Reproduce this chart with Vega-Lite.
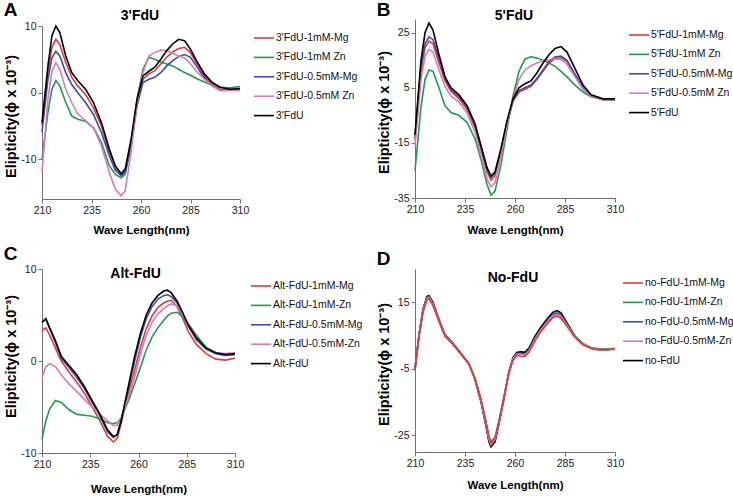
{
  "$schema": "https://vega.github.io/schema/vega-lite/v6.json",
  "padding": {"left": 3, "top": 0, "right": 0, "bottom": 0},
  "config": {
    "view": {"stroke": null},
    "font": "Liberation Sans",
    "axis": {"grid": false, "domainColor": "#707070", "tickColor": "#707070", "labelColor": "#222", "labelFont": "Liberation Sans", "labelFontSize": 10.5, "tickSize": 4, "labelPadding": 2, "titleColor": "#000", "titleFontWeight": "bold"},
    "axisX": {"titleFont": "Liberation Sans", "titleFontSize": 11.5, "labelFlush": false},
    "axisY": {"titleFont": "Liberation Sans", "titleFontSize": 14.5, "titlePadding": 2},
    "legend": {"symbolType": "stroke", "symbolSize": 400, "symbolStrokeWidth": 2, "labelFontSize": 10.5, "labelFont": "Liberation Sans", "labelColor": "#111", "padding": 0, "rowPadding": 2.4, "labelOffset": 1, "labelLimit": 200},
    "title": {"font": "Liberation Sans", "fontSize": 19, "fontWeight": "bold", "anchor": "start", "frame": "bounds", "color": "#000"},
    "line": {"strokeWidth": 1.6}
  },
  "datasets": {
    "A": [
      {"s":"3'FdU-1mM-Mg","w":210,"v":-5},{"s":"3'FdU-1mM-Mg","w":213,"v":3},{"s":"3'FdU-1mM-Mg","w":215,"v":6.8},{"s":"3'FdU-1mM-Mg","w":217,"v":8},{"s":"3'FdU-1mM-Mg","w":219,"v":7.2},{"s":"3'FdU-1mM-Mg","w":222,"v":4.5},{"s":"3'FdU-1mM-Mg","w":225,"v":2.3},{"s":"3'FdU-1mM-Mg","w":228,"v":1},{"s":"3'FdU-1mM-Mg","w":232,"v":-0.3},{"s":"3'FdU-1mM-Mg","w":236,"v":-2.3},{"s":"3'FdU-1mM-Mg","w":240,"v":-5},{"s":"3'FdU-1mM-Mg","w":244,"v":-9},{"s":"3'FdU-1mM-Mg","w":247,"v":-11.3},{"s":"3'FdU-1mM-Mg","w":250,"v":-12.3},{"s":"3'FdU-1mM-Mg","w":252,"v":-11.8},{"s":"3'FdU-1mM-Mg","w":255,"v":-7.5},{"s":"3'FdU-1mM-Mg","w":258,"v":-1.5},{"s":"3'FdU-1mM-Mg","w":261,"v":2},{"s":"3'FdU-1mM-Mg","w":264,"v":2.8},{"s":"3'FdU-1mM-Mg","w":267,"v":3.3},{"s":"3'FdU-1mM-Mg","w":270,"v":4.3},{"s":"3'FdU-1mM-Mg","w":273,"v":5.3},{"s":"3'FdU-1mM-Mg","w":276,"v":6.1},{"s":"3'FdU-1mM-Mg","w":279,"v":6.6},{"s":"3'FdU-1mM-Mg","w":282,"v":6.8},{"s":"3'FdU-1mM-Mg","w":285,"v":6},{"s":"3'FdU-1mM-Mg","w":288,"v":4.5},{"s":"3'FdU-1mM-Mg","w":292,"v":2.5},{"s":"3'FdU-1mM-Mg","w":296,"v":1.2},{"s":"3'FdU-1mM-Mg","w":300,"v":0.5},{"s":"3'FdU-1mM-Mg","w":305,"v":0.5},{"s":"3'FdU-1mM-Mg","w":310,"v":0.5},
      {"s":"3'FdU-1mM Zn","w":210,"v":-10},{"s":"3'FdU-1mM Zn","w":213,"v":-3},{"s":"3'FdU-1mM Zn","w":215,"v":0.5},{"s":"3'FdU-1mM Zn","w":217,"v":1.8},{"s":"3'FdU-1mM Zn","w":219,"v":1},{"s":"3'FdU-1mM Zn","w":222,"v":-1.5},{"s":"3'FdU-1mM Zn","w":225,"v":-3.5},{"s":"3'FdU-1mM Zn","w":228,"v":-4},{"s":"3'FdU-1mM Zn","w":232,"v":-4.3},{"s":"3'FdU-1mM Zn","w":236,"v":-5.3},{"s":"3'FdU-1mM Zn","w":240,"v":-7.5},{"s":"3'FdU-1mM Zn","w":244,"v":-11},{"s":"3'FdU-1mM Zn","w":247,"v":-12.3},{"s":"3'FdU-1mM Zn","w":250,"v":-12.8},{"s":"3'FdU-1mM Zn","w":252,"v":-12.3},{"s":"3'FdU-1mM Zn","w":255,"v":-8},{"s":"3'FdU-1mM Zn","w":258,"v":-1},{"s":"3'FdU-1mM Zn","w":261,"v":3.5},{"s":"3'FdU-1mM Zn","w":264,"v":5.3},{"s":"3'FdU-1mM Zn","w":267,"v":5},{"s":"3'FdU-1mM Zn","w":270,"v":4.6},{"s":"3'FdU-1mM Zn","w":273,"v":4.3},{"s":"3'FdU-1mM Zn","w":276,"v":4},{"s":"3'FdU-1mM Zn","w":279,"v":3.5},{"s":"3'FdU-1mM Zn","w":282,"v":3},{"s":"3'FdU-1mM Zn","w":285,"v":2.6},{"s":"3'FdU-1mM Zn","w":288,"v":2.1},{"s":"3'FdU-1mM Zn","w":292,"v":1.6},{"s":"3'FdU-1mM Zn","w":296,"v":1.1},{"s":"3'FdU-1mM Zn","w":300,"v":0.8},{"s":"3'FdU-1mM Zn","w":305,"v":0.7},{"s":"3'FdU-1mM Zn","w":310,"v":0.9},
      {"s":"3'FdU-0.5mM-Mg","w":210,"v":-6},{"s":"3'FdU-0.5mM-Mg","w":213,"v":2},{"s":"3'FdU-0.5mM-Mg","w":215,"v":5.2},{"s":"3'FdU-0.5mM-Mg","w":217,"v":6.2},{"s":"3'FdU-0.5mM-Mg","w":219,"v":5.5},{"s":"3'FdU-0.5mM-Mg","w":222,"v":3},{"s":"3'FdU-0.5mM-Mg","w":225,"v":1.2},{"s":"3'FdU-0.5mM-Mg","w":228,"v":0},{"s":"3'FdU-0.5mM-Mg","w":232,"v":-1.5},{"s":"3'FdU-0.5mM-Mg","w":236,"v":-3.3},{"s":"3'FdU-0.5mM-Mg","w":240,"v":-6},{"s":"3'FdU-0.5mM-Mg","w":244,"v":-9.5},{"s":"3'FdU-0.5mM-Mg","w":247,"v":-11.7},{"s":"3'FdU-0.5mM-Mg","w":250,"v":-12.5},{"s":"3'FdU-0.5mM-Mg","w":252,"v":-12},{"s":"3'FdU-0.5mM-Mg","w":255,"v":-8},{"s":"3'FdU-0.5mM-Mg","w":258,"v":-2},{"s":"3'FdU-0.5mM-Mg","w":261,"v":1.5},{"s":"3'FdU-0.5mM-Mg","w":264,"v":2},{"s":"3'FdU-0.5mM-Mg","w":267,"v":2.3},{"s":"3'FdU-0.5mM-Mg","w":270,"v":3},{"s":"3'FdU-0.5mM-Mg","w":273,"v":4},{"s":"3'FdU-0.5mM-Mg","w":276,"v":4.8},{"s":"3'FdU-0.5mM-Mg","w":279,"v":5.4},{"s":"3'FdU-0.5mM-Mg","w":282,"v":5.7},{"s":"3'FdU-0.5mM-Mg","w":285,"v":5.3},{"s":"3'FdU-0.5mM-Mg","w":288,"v":4},{"s":"3'FdU-0.5mM-Mg","w":292,"v":2.2},{"s":"3'FdU-0.5mM-Mg","w":296,"v":1},{"s":"3'FdU-0.5mM-Mg","w":300,"v":0.3},{"s":"3'FdU-0.5mM-Mg","w":305,"v":0.4},{"s":"3'FdU-0.5mM-Mg","w":310,"v":0.4},
      {"s":"3'FdU-0.5mM Zn","w":210,"v":-12},{"s":"3'FdU-0.5mM Zn","w":213,"v":-1},{"s":"3'FdU-0.5mM Zn","w":215,"v":3.2},{"s":"3'FdU-0.5mM Zn","w":217,"v":4.5},{"s":"3'FdU-0.5mM Zn","w":219,"v":3.5},{"s":"3'FdU-0.5mM Zn","w":222,"v":0.5},{"s":"3'FdU-0.5mM Zn","w":225,"v":-1.5},{"s":"3'FdU-0.5mM Zn","w":228,"v":-3.2},{"s":"3'FdU-0.5mM Zn","w":232,"v":-4.2},{"s":"3'FdU-0.5mM Zn","w":236,"v":-5.3},{"s":"3'FdU-0.5mM Zn","w":240,"v":-8},{"s":"3'FdU-0.5mM Zn","w":244,"v":-12},{"s":"3'FdU-0.5mM Zn","w":247,"v":-14.5},{"s":"3'FdU-0.5mM Zn","w":250,"v":-15.5},{"s":"3'FdU-0.5mM Zn","w":252,"v":-14.8},{"s":"3'FdU-0.5mM Zn","w":255,"v":-9},{"s":"3'FdU-0.5mM Zn","w":258,"v":-1.5},{"s":"3'FdU-0.5mM Zn","w":261,"v":3},{"s":"3'FdU-0.5mM Zn","w":264,"v":5.5},{"s":"3'FdU-0.5mM Zn","w":267,"v":6},{"s":"3'FdU-0.5mM Zn","w":270,"v":6.4},{"s":"3'FdU-0.5mM Zn","w":273,"v":6.3},{"s":"3'FdU-0.5mM Zn","w":276,"v":5.9},{"s":"3'FdU-0.5mM Zn","w":279,"v":5.5},{"s":"3'FdU-0.5mM Zn","w":282,"v":5.2},{"s":"3'FdU-0.5mM Zn","w":285,"v":4.3},{"s":"3'FdU-0.5mM Zn","w":288,"v":3.2},{"s":"3'FdU-0.5mM Zn","w":292,"v":2},{"s":"3'FdU-0.5mM Zn","w":296,"v":1},{"s":"3'FdU-0.5mM Zn","w":300,"v":0.3},{"s":"3'FdU-0.5mM Zn","w":305,"v":0.3},{"s":"3'FdU-0.5mM Zn","w":310,"v":0.3},
      {"s":"3'FdU","w":210,"v":-4.5},{"s":"3'FdU","w":213,"v":4},{"s":"3'FdU","w":215,"v":8.5},{"s":"3'FdU","w":217,"v":10},{"s":"3'FdU","w":219,"v":9},{"s":"3'FdU","w":222,"v":5.5},{"s":"3'FdU","w":225,"v":3},{"s":"3'FdU","w":228,"v":1.8},{"s":"3'FdU","w":232,"v":0.5},{"s":"3'FdU","w":236,"v":-1.5},{"s":"3'FdU","w":240,"v":-4.5},{"s":"3'FdU","w":244,"v":-8.5},{"s":"3'FdU","w":247,"v":-11},{"s":"3'FdU","w":250,"v":-12.2},{"s":"3'FdU","w":252,"v":-11.5},{"s":"3'FdU","w":255,"v":-7},{"s":"3'FdU","w":258,"v":-1},{"s":"3'FdU","w":261,"v":2.5},{"s":"3'FdU","w":264,"v":3.2},{"s":"3'FdU","w":267,"v":3.8},{"s":"3'FdU","w":270,"v":5},{"s":"3'FdU","w":273,"v":6.3},{"s":"3'FdU","w":276,"v":7.3},{"s":"3'FdU","w":279,"v":8},{"s":"3'FdU","w":282,"v":7.8},{"s":"3'FdU","w":285,"v":6.5},{"s":"3'FdU","w":288,"v":4.8},{"s":"3'FdU","w":292,"v":2.8},{"s":"3'FdU","w":296,"v":1.5},{"s":"3'FdU","w":300,"v":0.8},{"s":"3'FdU","w":305,"v":0.5},{"s":"3'FdU","w":310,"v":0.6}
    ],
    "B": [
      {"s":"5'FdU-1mM-Mg","w":210,"v":-14},{"s":"5'FdU-1mM-Mg","w":213,"v":11},{"s":"5'FdU-1mM-Mg","w":215,"v":19.5},{"s":"5'FdU-1mM-Mg","w":217,"v":22},{"s":"5'FdU-1mM-Mg","w":219,"v":21},{"s":"5'FdU-1mM-Mg","w":222,"v":14},{"s":"5'FdU-1mM-Mg","w":225,"v":7.5},{"s":"5'FdU-1mM-Mg","w":228,"v":3.8},{"s":"5'FdU-1mM-Mg","w":232,"v":1},{"s":"5'FdU-1mM-Mg","w":236,"v":-2.8},{"s":"5'FdU-1mM-Mg","w":240,"v":-9.5},{"s":"5'FdU-1mM-Mg","w":243,"v":-17.5},{"s":"5'FdU-1mM-Mg","w":246,"v":-25.5},{"s":"5'FdU-1mM-Mg","w":248,"v":-28.5},{"s":"5'FdU-1mM-Mg","w":250,"v":-27},{"s":"5'FdU-1mM-Mg","w":253,"v":-18},{"s":"5'FdU-1mM-Mg","w":256,"v":-8},{"s":"5'FdU-1mM-Mg","w":259,"v":0},{"s":"5'FdU-1mM-Mg","w":262,"v":3.5},{"s":"5'FdU-1mM-Mg","w":265,"v":4.5},{"s":"5'FdU-1mM-Mg","w":268,"v":5.5},{"s":"5'FdU-1mM-Mg","w":271,"v":8},{"s":"5'FdU-1mM-Mg","w":274,"v":11},{"s":"5'FdU-1mM-Mg","w":277,"v":14},{"s":"5'FdU-1mM-Mg","w":280,"v":15.6},{"s":"5'FdU-1mM-Mg","w":283,"v":16},{"s":"5'FdU-1mM-Mg","w":286,"v":14.5},{"s":"5'FdU-1mM-Mg","w":290,"v":9.8},{"s":"5'FdU-1mM-Mg","w":294,"v":4.8},{"s":"5'FdU-1mM-Mg","w":298,"v":2},{"s":"5'FdU-1mM-Mg","w":304,"v":0.7},{"s":"5'FdU-1mM-Mg","w":310,"v":0.7},
      {"s":"5'FdU-1mM Zn","w":210,"v":-25},{"s":"5'FdU-1mM Zn","w":213,"v":-2},{"s":"5'FdU-1mM Zn","w":215,"v":8},{"s":"5'FdU-1mM Zn","w":217,"v":11.5},{"s":"5'FdU-1mM Zn","w":219,"v":11},{"s":"5'FdU-1mM Zn","w":222,"v":5},{"s":"5'FdU-1mM Zn","w":225,"v":-1.5},{"s":"5'FdU-1mM Zn","w":228,"v":-4},{"s":"5'FdU-1mM Zn","w":232,"v":-5},{"s":"5'FdU-1mM Zn","w":236,"v":-7.5},{"s":"5'FdU-1mM Zn","w":240,"v":-13.5},{"s":"5'FdU-1mM Zn","w":243,"v":-21},{"s":"5'FdU-1mM Zn","w":246,"v":-30},{"s":"5'FdU-1mM Zn","w":248,"v":-34},{"s":"5'FdU-1mM Zn","w":250,"v":-32.5},{"s":"5'FdU-1mM Zn","w":253,"v":-23},{"s":"5'FdU-1mM Zn","w":256,"v":-10},{"s":"5'FdU-1mM Zn","w":259,"v":2},{"s":"5'FdU-1mM Zn","w":262,"v":11},{"s":"5'FdU-1mM Zn","w":265,"v":15.5},{"s":"5'FdU-1mM Zn","w":268,"v":16.3},{"s":"5'FdU-1mM Zn","w":271,"v":15.8},{"s":"5'FdU-1mM Zn","w":274,"v":15},{"s":"5'FdU-1mM Zn","w":277,"v":14},{"s":"5'FdU-1mM Zn","w":280,"v":12.8},{"s":"5'FdU-1mM Zn","w":283,"v":11},{"s":"5'FdU-1mM Zn","w":286,"v":9},{"s":"5'FdU-1mM Zn","w":290,"v":6},{"s":"5'FdU-1mM Zn","w":294,"v":3.5},{"s":"5'FdU-1mM Zn","w":298,"v":1.8},{"s":"5'FdU-1mM Zn","w":304,"v":0.8},{"s":"5'FdU-1mM Zn","w":310,"v":0.7},
      {"s":"5'FdU-0.5mM-Mg","w":210,"v":-13},{"s":"5'FdU-0.5mM-Mg","w":213,"v":13},{"s":"5'FdU-0.5mM-Mg","w":215,"v":21},{"s":"5'FdU-0.5mM-Mg","w":217,"v":23.5},{"s":"5'FdU-0.5mM-Mg","w":219,"v":22.5},{"s":"5'FdU-0.5mM-Mg","w":222,"v":15.5},{"s":"5'FdU-0.5mM-Mg","w":225,"v":8.5},{"s":"5'FdU-0.5mM-Mg","w":228,"v":4.5},{"s":"5'FdU-0.5mM-Mg","w":232,"v":1.8},{"s":"5'FdU-0.5mM-Mg","w":236,"v":-2},{"s":"5'FdU-0.5mM-Mg","w":240,"v":-8.5},{"s":"5'FdU-0.5mM-Mg","w":243,"v":-16.5},{"s":"5'FdU-0.5mM-Mg","w":246,"v":-24.5},{"s":"5'FdU-0.5mM-Mg","w":248,"v":-27.5},{"s":"5'FdU-0.5mM-Mg","w":250,"v":-26},{"s":"5'FdU-0.5mM-Mg","w":253,"v":-17.5},{"s":"5'FdU-0.5mM-Mg","w":256,"v":-7.5},{"s":"5'FdU-0.5mM-Mg","w":259,"v":0.5},{"s":"5'FdU-0.5mM-Mg","w":262,"v":4},{"s":"5'FdU-0.5mM-Mg","w":265,"v":5},{"s":"5'FdU-0.5mM-Mg","w":268,"v":6},{"s":"5'FdU-0.5mM-Mg","w":271,"v":8.5},{"s":"5'FdU-0.5mM-Mg","w":274,"v":11.5},{"s":"5'FdU-0.5mM-Mg","w":277,"v":14.5},{"s":"5'FdU-0.5mM-Mg","w":280,"v":16.2},{"s":"5'FdU-0.5mM-Mg","w":283,"v":16.5},{"s":"5'FdU-0.5mM-Mg","w":286,"v":15},{"s":"5'FdU-0.5mM-Mg","w":290,"v":10},{"s":"5'FdU-0.5mM-Mg","w":294,"v":5},{"s":"5'FdU-0.5mM-Mg","w":298,"v":2},{"s":"5'FdU-0.5mM-Mg","w":304,"v":0.8},{"s":"5'FdU-0.5mM-Mg","w":310,"v":0.8},
      {"s":"5'FdU-0.5mM Zn","w":210,"v":-16},{"s":"5'FdU-0.5mM Zn","w":213,"v":8},{"s":"5'FdU-0.5mM Zn","w":215,"v":16.5},{"s":"5'FdU-0.5mM Zn","w":217,"v":19},{"s":"5'FdU-0.5mM Zn","w":219,"v":18},{"s":"5'FdU-0.5mM Zn","w":222,"v":11.5},{"s":"5'FdU-0.5mM Zn","w":225,"v":5.5},{"s":"5'FdU-0.5mM Zn","w":228,"v":2},{"s":"5'FdU-0.5mM Zn","w":232,"v":-0.2},{"s":"5'FdU-0.5mM Zn","w":236,"v":-4},{"s":"5'FdU-0.5mM Zn","w":240,"v":-11},{"s":"5'FdU-0.5mM Zn","w":243,"v":-19.5},{"s":"5'FdU-0.5mM Zn","w":246,"v":-28},{"s":"5'FdU-0.5mM Zn","w":248,"v":-31},{"s":"5'FdU-0.5mM Zn","w":250,"v":-29.5},{"s":"5'FdU-0.5mM Zn","w":253,"v":-20},{"s":"5'FdU-0.5mM Zn","w":256,"v":-8.5},{"s":"5'FdU-0.5mM Zn","w":259,"v":1},{"s":"5'FdU-0.5mM Zn","w":262,"v":8},{"s":"5'FdU-0.5mM Zn","w":265,"v":11.5},{"s":"5'FdU-0.5mM Zn","w":268,"v":13},{"s":"5'FdU-0.5mM Zn","w":271,"v":14},{"s":"5'FdU-0.5mM Zn","w":274,"v":14.8},{"s":"5'FdU-0.5mM Zn","w":277,"v":15.2},{"s":"5'FdU-0.5mM Zn","w":280,"v":15.5},{"s":"5'FdU-0.5mM Zn","w":283,"v":15.3},{"s":"5'FdU-0.5mM Zn","w":286,"v":13.5},{"s":"5'FdU-0.5mM Zn","w":290,"v":9},{"s":"5'FdU-0.5mM Zn","w":294,"v":4.5},{"s":"5'FdU-0.5mM Zn","w":298,"v":2},{"s":"5'FdU-0.5mM Zn","w":304,"v":0.8},{"s":"5'FdU-0.5mM Zn","w":310,"v":0.8},
      {"s":"5'FdU","w":210,"v":-12},{"s":"5'FdU","w":213,"v":15},{"s":"5'FdU","w":215,"v":25},{"s":"5'FdU","w":217,"v":28.5},{"s":"5'FdU","w":219,"v":26},{"s":"5'FdU","w":222,"v":17},{"s":"5'FdU","w":225,"v":9},{"s":"5'FdU","w":228,"v":5},{"s":"5'FdU","w":232,"v":2.5},{"s":"5'FdU","w":236,"v":-1.5},{"s":"5'FdU","w":240,"v":-8},{"s":"5'FdU","w":243,"v":-16},{"s":"5'FdU","w":246,"v":-24},{"s":"5'FdU","w":248,"v":-27},{"s":"5'FdU","w":250,"v":-25.5},{"s":"5'FdU","w":253,"v":-17},{"s":"5'FdU","w":256,"v":-7},{"s":"5'FdU","w":259,"v":1},{"s":"5'FdU","w":262,"v":5},{"s":"5'FdU","w":265,"v":6.5},{"s":"5'FdU","w":268,"v":7.5},{"s":"5'FdU","w":271,"v":10.5},{"s":"5'FdU","w":274,"v":14},{"s":"5'FdU","w":277,"v":17},{"s":"5'FdU","w":280,"v":19.3},{"s":"5'FdU","w":283,"v":20},{"s":"5'FdU","w":286,"v":18},{"s":"5'FdU","w":290,"v":12},{"s":"5'FdU","w":294,"v":6},{"s":"5'FdU","w":298,"v":2.5},{"s":"5'FdU","w":304,"v":1},{"s":"5'FdU","w":310,"v":1}
    ],
    "C": [
      {"s":"Alt-FdU-1mM-Mg","w":210,"v":3.3},{"s":"Alt-FdU-1mM-Mg","w":212,"v":3.6},{"s":"Alt-FdU-1mM-Mg","w":214,"v":2.8},{"s":"Alt-FdU-1mM-Mg","w":217,"v":1.4},{"s":"Alt-FdU-1mM-Mg","w":220,"v":0},{"s":"Alt-FdU-1mM-Mg","w":224,"v":-1.2},{"s":"Alt-FdU-1mM-Mg","w":228,"v":-2.3},{"s":"Alt-FdU-1mM-Mg","w":232,"v":-3.5},{"s":"Alt-FdU-1mM-Mg","w":236,"v":-5},{"s":"Alt-FdU-1mM-Mg","w":240,"v":-6.5},{"s":"Alt-FdU-1mM-Mg","w":244,"v":-8.2},{"s":"Alt-FdU-1mM-Mg","w":247,"v":-8.8},{"s":"Alt-FdU-1mM-Mg","w":249,"v":-8.4},{"s":"Alt-FdU-1mM-Mg","w":251,"v":-6.8},{"s":"Alt-FdU-1mM-Mg","w":253,"v":-5},{"s":"Alt-FdU-1mM-Mg","w":255,"v":-3.3},{"s":"Alt-FdU-1mM-Mg","w":258,"v":-1},{"s":"Alt-FdU-1mM-Mg","w":261,"v":1.5},{"s":"Alt-FdU-1mM-Mg","w":264,"v":3.5},{"s":"Alt-FdU-1mM-Mg","w":267,"v":4.9},{"s":"Alt-FdU-1mM-Mg","w":270,"v":5.8},{"s":"Alt-FdU-1mM-Mg","w":273,"v":6.3},{"s":"Alt-FdU-1mM-Mg","w":275,"v":6.5},{"s":"Alt-FdU-1mM-Mg","w":277,"v":6.6},{"s":"Alt-FdU-1mM-Mg","w":280,"v":5.9},{"s":"Alt-FdU-1mM-Mg","w":283,"v":4.6},{"s":"Alt-FdU-1mM-Mg","w":286,"v":3.1},{"s":"Alt-FdU-1mM-Mg","w":290,"v":1.8},{"s":"Alt-FdU-1mM-Mg","w":295,"v":0.8},{"s":"Alt-FdU-1mM-Mg","w":300,"v":0.2},{"s":"Alt-FdU-1mM-Mg","w":305,"v":0.1},{"s":"Alt-FdU-1mM-Mg","w":310,"v":0.3},
      {"s":"Alt-FdU-1mM-Zn","w":210,"v":-8.5},{"s":"Alt-FdU-1mM-Zn","w":212,"v":-6.5},{"s":"Alt-FdU-1mM-Zn","w":214,"v":-5.2},{"s":"Alt-FdU-1mM-Zn","w":217,"v":-4.3},{"s":"Alt-FdU-1mM-Zn","w":220,"v":-4.5},{"s":"Alt-FdU-1mM-Zn","w":224,"v":-5.3},{"s":"Alt-FdU-1mM-Zn","w":228,"v":-5.8},{"s":"Alt-FdU-1mM-Zn","w":232,"v":-5.9},{"s":"Alt-FdU-1mM-Zn","w":236,"v":-6},{"s":"Alt-FdU-1mM-Zn","w":240,"v":-6.3},{"s":"Alt-FdU-1mM-Zn","w":244,"v":-6.7},{"s":"Alt-FdU-1mM-Zn","w":247,"v":-6.8},{"s":"Alt-FdU-1mM-Zn","w":249,"v":-6.7},{"s":"Alt-FdU-1mM-Zn","w":251,"v":-6.2},{"s":"Alt-FdU-1mM-Zn","w":253,"v":-5.2},{"s":"Alt-FdU-1mM-Zn","w":255,"v":-4.2},{"s":"Alt-FdU-1mM-Zn","w":258,"v":-2.5},{"s":"Alt-FdU-1mM-Zn","w":261,"v":-0.7},{"s":"Alt-FdU-1mM-Zn","w":264,"v":1.2},{"s":"Alt-FdU-1mM-Zn","w":267,"v":2.6},{"s":"Alt-FdU-1mM-Zn","w":270,"v":3.6},{"s":"Alt-FdU-1mM-Zn","w":273,"v":4.4},{"s":"Alt-FdU-1mM-Zn","w":275,"v":4.9},{"s":"Alt-FdU-1mM-Zn","w":277,"v":5.2},{"s":"Alt-FdU-1mM-Zn","w":280,"v":5.3},{"s":"Alt-FdU-1mM-Zn","w":283,"v":4.8},{"s":"Alt-FdU-1mM-Zn","w":286,"v":4},{"s":"Alt-FdU-1mM-Zn","w":290,"v":2.8},{"s":"Alt-FdU-1mM-Zn","w":295,"v":1.5},{"s":"Alt-FdU-1mM-Zn","w":300,"v":0.9},{"s":"Alt-FdU-1mM-Zn","w":305,"v":0.6},{"s":"Alt-FdU-1mM-Zn","w":310,"v":0.7},
      {"s":"Alt-FdU-0.5mM-Mg","w":210,"v":4.3},{"s":"Alt-FdU-0.5mM-Mg","w":212,"v":4.5},{"s":"Alt-FdU-0.5mM-Mg","w":214,"v":3.5},{"s":"Alt-FdU-0.5mM-Mg","w":217,"v":2},{"s":"Alt-FdU-0.5mM-Mg","w":220,"v":0.3},{"s":"Alt-FdU-0.5mM-Mg","w":224,"v":-0.7},{"s":"Alt-FdU-0.5mM-Mg","w":228,"v":-1.8},{"s":"Alt-FdU-0.5mM-Mg","w":232,"v":-3},{"s":"Alt-FdU-0.5mM-Mg","w":236,"v":-4.5},{"s":"Alt-FdU-0.5mM-Mg","w":240,"v":-6},{"s":"Alt-FdU-0.5mM-Mg","w":244,"v":-7.7},{"s":"Alt-FdU-0.5mM-Mg","w":247,"v":-8.3},{"s":"Alt-FdU-0.5mM-Mg","w":249,"v":-8},{"s":"Alt-FdU-0.5mM-Mg","w":251,"v":-6.5},{"s":"Alt-FdU-0.5mM-Mg","w":253,"v":-4.7},{"s":"Alt-FdU-0.5mM-Mg","w":255,"v":-2.8},{"s":"Alt-FdU-0.5mM-Mg","w":258,"v":0},{"s":"Alt-FdU-0.5mM-Mg","w":261,"v":2.6},{"s":"Alt-FdU-0.5mM-Mg","w":264,"v":4.6},{"s":"Alt-FdU-0.5mM-Mg","w":267,"v":5.9},{"s":"Alt-FdU-0.5mM-Mg","w":270,"v":6.7},{"s":"Alt-FdU-0.5mM-Mg","w":273,"v":7.1},{"s":"Alt-FdU-0.5mM-Mg","w":275,"v":7.2},{"s":"Alt-FdU-0.5mM-Mg","w":277,"v":7},{"s":"Alt-FdU-0.5mM-Mg","w":280,"v":6.3},{"s":"Alt-FdU-0.5mM-Mg","w":283,"v":5},{"s":"Alt-FdU-0.5mM-Mg","w":286,"v":3.7},{"s":"Alt-FdU-0.5mM-Mg","w":290,"v":2.3},{"s":"Alt-FdU-0.5mM-Mg","w":295,"v":1.3},{"s":"Alt-FdU-0.5mM-Mg","w":300,"v":0.8},{"s":"Alt-FdU-0.5mM-Mg","w":305,"v":0.6},{"s":"Alt-FdU-0.5mM-Mg","w":310,"v":0.7},
      {"s":"Alt-FdU-0.5mM-Zn","w":210,"v":-1.8},{"s":"Alt-FdU-0.5mM-Zn","w":212,"v":-0.6},{"s":"Alt-FdU-0.5mM-Zn","w":214,"v":-0.3},{"s":"Alt-FdU-0.5mM-Zn","w":217,"v":-0.6},{"s":"Alt-FdU-0.5mM-Zn","w":220,"v":-1.5},{"s":"Alt-FdU-0.5mM-Zn","w":224,"v":-2.5},{"s":"Alt-FdU-0.5mM-Zn","w":228,"v":-3.3},{"s":"Alt-FdU-0.5mM-Zn","w":232,"v":-4.2},{"s":"Alt-FdU-0.5mM-Zn","w":236,"v":-5},{"s":"Alt-FdU-0.5mM-Zn","w":240,"v":-5.8},{"s":"Alt-FdU-0.5mM-Zn","w":244,"v":-6.5},{"s":"Alt-FdU-0.5mM-Zn","w":247,"v":-7},{"s":"Alt-FdU-0.5mM-Zn","w":249,"v":-7},{"s":"Alt-FdU-0.5mM-Zn","w":251,"v":-6.3},{"s":"Alt-FdU-0.5mM-Zn","w":253,"v":-5},{"s":"Alt-FdU-0.5mM-Zn","w":255,"v":-3.8},{"s":"Alt-FdU-0.5mM-Zn","w":258,"v":-1.8},{"s":"Alt-FdU-0.5mM-Zn","w":261,"v":0.8},{"s":"Alt-FdU-0.5mM-Zn","w":264,"v":2.8},{"s":"Alt-FdU-0.5mM-Zn","w":267,"v":4.2},{"s":"Alt-FdU-0.5mM-Zn","w":270,"v":5.1},{"s":"Alt-FdU-0.5mM-Zn","w":273,"v":5.7},{"s":"Alt-FdU-0.5mM-Zn","w":275,"v":6},{"s":"Alt-FdU-0.5mM-Zn","w":277,"v":6.2},{"s":"Alt-FdU-0.5mM-Zn","w":280,"v":6},{"s":"Alt-FdU-0.5mM-Zn","w":283,"v":5},{"s":"Alt-FdU-0.5mM-Zn","w":286,"v":3.8},{"s":"Alt-FdU-0.5mM-Zn","w":290,"v":2.5},{"s":"Alt-FdU-0.5mM-Zn","w":295,"v":1.4},{"s":"Alt-FdU-0.5mM-Zn","w":300,"v":0.9},{"s":"Alt-FdU-0.5mM-Zn","w":305,"v":0.8},{"s":"Alt-FdU-0.5mM-Zn","w":310,"v":0.9},
      {"s":"Alt-FdU","w":210,"v":4.2},{"s":"Alt-FdU","w":212,"v":4.6},{"s":"Alt-FdU","w":214,"v":3.6},{"s":"Alt-FdU","w":217,"v":2.2},{"s":"Alt-FdU","w":220,"v":0.5},{"s":"Alt-FdU","w":224,"v":-0.5},{"s":"Alt-FdU","w":228,"v":-1.5},{"s":"Alt-FdU","w":232,"v":-2.8},{"s":"Alt-FdU","w":236,"v":-4.3},{"s":"Alt-FdU","w":240,"v":-5.8},{"s":"Alt-FdU","w":244,"v":-7.5},{"s":"Alt-FdU","w":247,"v":-8.2},{"s":"Alt-FdU","w":249,"v":-8},{"s":"Alt-FdU","w":251,"v":-6.5},{"s":"Alt-FdU","w":253,"v":-4.5},{"s":"Alt-FdU","w":255,"v":-2.5},{"s":"Alt-FdU","w":258,"v":0.5},{"s":"Alt-FdU","w":261,"v":3},{"s":"Alt-FdU","w":264,"v":5},{"s":"Alt-FdU","w":267,"v":6.3},{"s":"Alt-FdU","w":270,"v":7.1},{"s":"Alt-FdU","w":273,"v":7.6},{"s":"Alt-FdU","w":275,"v":7.7},{"s":"Alt-FdU","w":277,"v":7.4},{"s":"Alt-FdU","w":280,"v":6.5},{"s":"Alt-FdU","w":283,"v":5.2},{"s":"Alt-FdU","w":286,"v":3.8},{"s":"Alt-FdU","w":290,"v":2.5},{"s":"Alt-FdU","w":295,"v":1.4},{"s":"Alt-FdU","w":300,"v":0.9},{"s":"Alt-FdU","w":305,"v":0.7},{"s":"Alt-FdU","w":310,"v":0.8}
    ],
    "D": [
      {"s":"no-FdU","w":210,"v":-4.8},{"s":"no-FdU","w":212,"v":5.3},{"s":"no-FdU","w":214,"v":13},{"s":"no-FdU","w":216,"v":16.8},{"s":"no-FdU","w":217,"v":17},{"s":"no-FdU","w":219,"v":15},{"s":"no-FdU","w":222,"v":9.8},{"s":"no-FdU","w":225,"v":5.2},{"s":"no-FdU","w":229,"v":2.7},{"s":"no-FdU","w":233,"v":-0.4},{"s":"no-FdU","w":237,"v":-3.5},{"s":"no-FdU","w":240,"v":-8.2},{"s":"no-FdU","w":243,"v":-15},{"s":"no-FdU","w":245,"v":-20.8},{"s":"no-FdU","w":247,"v":-27},{"s":"no-FdU","w":248,"v":-28.5},{"s":"no-FdU","w":250,"v":-27},{"s":"no-FdU","w":252,"v":-21.5},{"s":"no-FdU","w":255,"v":-12.4},{"s":"no-FdU","w":257,"v":-5.8},{"s":"no-FdU","w":259,"v":-1.6},{"s":"no-FdU","w":261,"v":0},{"s":"no-FdU","w":263,"v":0.1},{"s":"no-FdU","w":265,"v":0},{"s":"no-FdU","w":267,"v":1.2},{"s":"no-FdU","w":270,"v":4.8},{"s":"no-FdU","w":273,"v":7.6},{"s":"no-FdU","w":276,"v":10},{"s":"no-FdU","w":279,"v":12},{"s":"no-FdU","w":281,"v":12.5},{"s":"no-FdU","w":283,"v":11.8},{"s":"no-FdU","w":286,"v":8.8},{"s":"no-FdU","w":290,"v":4.8},{"s":"no-FdU","w":294,"v":2.4},{"s":"no-FdU","w":298,"v":1.2},{"s":"no-FdU","w":302,"v":0.8},{"s":"no-FdU","w":306,"v":0.8},{"s":"no-FdU","w":310,"v":1},
      {"s":"no-FdU-0.5mM-Mg","w":210,"v":-5},{"s":"no-FdU-0.5mM-Mg","w":212,"v":5},{"s":"no-FdU-0.5mM-Mg","w":214,"v":12.6},{"s":"no-FdU-0.5mM-Mg","w":216,"v":16.5},{"s":"no-FdU-0.5mM-Mg","w":217,"v":16.7},{"s":"no-FdU-0.5mM-Mg","w":219,"v":14.6},{"s":"no-FdU-0.5mM-Mg","w":222,"v":9.6},{"s":"no-FdU-0.5mM-Mg","w":225,"v":5.1},{"s":"no-FdU-0.5mM-Mg","w":229,"v":2.6},{"s":"no-FdU-0.5mM-Mg","w":233,"v":-0.4},{"s":"no-FdU-0.5mM-Mg","w":237,"v":-3.5},{"s":"no-FdU-0.5mM-Mg","w":240,"v":-8.1},{"s":"no-FdU-0.5mM-Mg","w":243,"v":-14.7},{"s":"no-FdU-0.5mM-Mg","w":245,"v":-20.3},{"s":"no-FdU-0.5mM-Mg","w":247,"v":-26.4},{"s":"no-FdU-0.5mM-Mg","w":248,"v":-28},{"s":"no-FdU-0.5mM-Mg","w":250,"v":-26.4},{"s":"no-FdU-0.5mM-Mg","w":252,"v":-21.2},{"s":"no-FdU-0.5mM-Mg","w":255,"v":-12.2},{"s":"no-FdU-0.5mM-Mg","w":257,"v":-6},{"s":"no-FdU-0.5mM-Mg","w":259,"v":-2},{"s":"no-FdU-0.5mM-Mg","w":261,"v":-0.4},{"s":"no-FdU-0.5mM-Mg","w":263,"v":-0.3},{"s":"no-FdU-0.5mM-Mg","w":265,"v":-0.6},{"s":"no-FdU-0.5mM-Mg","w":267,"v":0.7},{"s":"no-FdU-0.5mM-Mg","w":270,"v":4.2},{"s":"no-FdU-0.5mM-Mg","w":273,"v":7},{"s":"no-FdU-0.5mM-Mg","w":276,"v":9.2},{"s":"no-FdU-0.5mM-Mg","w":279,"v":11.4},{"s":"no-FdU-0.5mM-Mg","w":281,"v":11.8},{"s":"no-FdU-0.5mM-Mg","w":283,"v":11.2},{"s":"no-FdU-0.5mM-Mg","w":286,"v":8.3},{"s":"no-FdU-0.5mM-Mg","w":290,"v":4.6},{"s":"no-FdU-0.5mM-Mg","w":294,"v":2.3},{"s":"no-FdU-0.5mM-Mg","w":298,"v":1.2},{"s":"no-FdU-0.5mM-Mg","w":302,"v":0.8},{"s":"no-FdU-0.5mM-Mg","w":306,"v":0.8},{"s":"no-FdU-0.5mM-Mg","w":310,"v":1},
      {"s":"no-FdU-1mM-Zn","w":210,"v":-5.5},{"s":"no-FdU-1mM-Zn","w":212,"v":4.9},{"s":"no-FdU-1mM-Zn","w":214,"v":12.4},{"s":"no-FdU-1mM-Zn","w":216,"v":16.3},{"s":"no-FdU-1mM-Zn","w":217,"v":16.6},{"s":"no-FdU-1mM-Zn","w":219,"v":14.5},{"s":"no-FdU-1mM-Zn","w":222,"v":9.5},{"s":"no-FdU-1mM-Zn","w":225,"v":5},{"s":"no-FdU-1mM-Zn","w":229,"v":2.5},{"s":"no-FdU-1mM-Zn","w":233,"v":-0.5},{"s":"no-FdU-1mM-Zn","w":237,"v":-3.5},{"s":"no-FdU-1mM-Zn","w":240,"v":-7.8},{"s":"no-FdU-1mM-Zn","w":243,"v":-14.2},{"s":"no-FdU-1mM-Zn","w":245,"v":-19.6},{"s":"no-FdU-1mM-Zn","w":247,"v":-25.5},{"s":"no-FdU-1mM-Zn","w":248,"v":-27},{"s":"no-FdU-1mM-Zn","w":250,"v":-25.6},{"s":"no-FdU-1mM-Zn","w":252,"v":-20.6},{"s":"no-FdU-1mM-Zn","w":255,"v":-11.8},{"s":"no-FdU-1mM-Zn","w":257,"v":-5.8},{"s":"no-FdU-1mM-Zn","w":259,"v":-2},{"s":"no-FdU-1mM-Zn","w":261,"v":-0.5},{"s":"no-FdU-1mM-Zn","w":263,"v":-0.6},{"s":"no-FdU-1mM-Zn","w":265,"v":-0.8},{"s":"no-FdU-1mM-Zn","w":267,"v":0.4},{"s":"no-FdU-1mM-Zn","w":270,"v":3.8},{"s":"no-FdU-1mM-Zn","w":273,"v":6.6},{"s":"no-FdU-1mM-Zn","w":276,"v":8.8},{"s":"no-FdU-1mM-Zn","w":279,"v":10.9},{"s":"no-FdU-1mM-Zn","w":281,"v":11.3},{"s":"no-FdU-1mM-Zn","w":283,"v":10.8},{"s":"no-FdU-1mM-Zn","w":286,"v":8.3},{"s":"no-FdU-1mM-Zn","w":290,"v":4.9},{"s":"no-FdU-1mM-Zn","w":294,"v":2.6},{"s":"no-FdU-1mM-Zn","w":298,"v":1.4},{"s":"no-FdU-1mM-Zn","w":302,"v":1},{"s":"no-FdU-1mM-Zn","w":306,"v":1},{"s":"no-FdU-1mM-Zn","w":310,"v":1.2},
      {"s":"no-FdU-0.5mM-Zn","w":210,"v":-5.1},{"s":"no-FdU-0.5mM-Zn","w":212,"v":4.9},{"s":"no-FdU-0.5mM-Zn","w":214,"v":12.4},{"s":"no-FdU-0.5mM-Zn","w":216,"v":16.2},{"s":"no-FdU-0.5mM-Zn","w":217,"v":16.4},{"s":"no-FdU-0.5mM-Zn","w":219,"v":14.4},{"s":"no-FdU-0.5mM-Zn","w":222,"v":9.4},{"s":"no-FdU-0.5mM-Zn","w":225,"v":4.9},{"s":"no-FdU-0.5mM-Zn","w":229,"v":2.4},{"s":"no-FdU-0.5mM-Zn","w":233,"v":-0.6},{"s":"no-FdU-0.5mM-Zn","w":237,"v":-3.6},{"s":"no-FdU-0.5mM-Zn","w":240,"v":-8.1},{"s":"no-FdU-0.5mM-Zn","w":243,"v":-14.6},{"s":"no-FdU-0.5mM-Zn","w":245,"v":-20.2},{"s":"no-FdU-0.5mM-Zn","w":247,"v":-26.2},{"s":"no-FdU-0.5mM-Zn","w":248,"v":-27.7},{"s":"no-FdU-0.5mM-Zn","w":250,"v":-26.2},{"s":"no-FdU-0.5mM-Zn","w":252,"v":-21.1},{"s":"no-FdU-0.5mM-Zn","w":255,"v":-12.1},{"s":"no-FdU-0.5mM-Zn","w":257,"v":-6.1},{"s":"no-FdU-0.5mM-Zn","w":259,"v":-2.1},{"s":"no-FdU-0.5mM-Zn","w":261,"v":-0.6},{"s":"no-FdU-0.5mM-Zn","w":263,"v":-0.6},{"s":"no-FdU-0.5mM-Zn","w":265,"v":-0.9},{"s":"no-FdU-0.5mM-Zn","w":267,"v":0.4},{"s":"no-FdU-0.5mM-Zn","w":270,"v":3.9},{"s":"no-FdU-0.5mM-Zn","w":273,"v":6.7},{"s":"no-FdU-0.5mM-Zn","w":276,"v":8.9},{"s":"no-FdU-0.5mM-Zn","w":279,"v":11},{"s":"no-FdU-0.5mM-Zn","w":281,"v":11.4},{"s":"no-FdU-0.5mM-Zn","w":283,"v":10.7},{"s":"no-FdU-0.5mM-Zn","w":286,"v":8.1},{"s":"no-FdU-0.5mM-Zn","w":290,"v":4.5},{"s":"no-FdU-0.5mM-Zn","w":294,"v":2.3},{"s":"no-FdU-0.5mM-Zn","w":298,"v":1.2},{"s":"no-FdU-0.5mM-Zn","w":302,"v":0.8},{"s":"no-FdU-0.5mM-Zn","w":306,"v":0.8},{"s":"no-FdU-0.5mM-Zn","w":310,"v":1},
      {"s":"no-FdU-1mM-Mg","w":210,"v":-5.2},{"s":"no-FdU-1mM-Mg","w":212,"v":4.7},{"s":"no-FdU-1mM-Mg","w":214,"v":12},{"s":"no-FdU-1mM-Mg","w":216,"v":15.8},{"s":"no-FdU-1mM-Mg","w":217,"v":16},{"s":"no-FdU-1mM-Mg","w":219,"v":14},{"s":"no-FdU-1mM-Mg","w":222,"v":9.2},{"s":"no-FdU-1mM-Mg","w":225,"v":4.8},{"s":"no-FdU-1mM-Mg","w":229,"v":2.3},{"s":"no-FdU-1mM-Mg","w":233,"v":-0.6},{"s":"no-FdU-1mM-Mg","w":237,"v":-3.6},{"s":"no-FdU-1mM-Mg","w":240,"v":-8},{"s":"no-FdU-1mM-Mg","w":243,"v":-14.3},{"s":"no-FdU-1mM-Mg","w":245,"v":-19.5},{"s":"no-FdU-1mM-Mg","w":247,"v":-25.5},{"s":"no-FdU-1mM-Mg","w":248,"v":-27.2},{"s":"no-FdU-1mM-Mg","w":250,"v":-25.8},{"s":"no-FdU-1mM-Mg","w":252,"v":-20.8},{"s":"no-FdU-1mM-Mg","w":255,"v":-12},{"s":"no-FdU-1mM-Mg","w":257,"v":-6.2},{"s":"no-FdU-1mM-Mg","w":259,"v":-2.4},{"s":"no-FdU-1mM-Mg","w":261,"v":-1},{"s":"no-FdU-1mM-Mg","w":263,"v":-1.2},{"s":"no-FdU-1mM-Mg","w":265,"v":-1.3},{"s":"no-FdU-1mM-Mg","w":267,"v":0},{"s":"no-FdU-1mM-Mg","w":270,"v":3.4},{"s":"no-FdU-1mM-Mg","w":273,"v":6.2},{"s":"no-FdU-1mM-Mg","w":276,"v":8.4},{"s":"no-FdU-1mM-Mg","w":279,"v":10.4},{"s":"no-FdU-1mM-Mg","w":281,"v":10.8},{"s":"no-FdU-1mM-Mg","w":283,"v":10.2},{"s":"no-FdU-1mM-Mg","w":286,"v":7.8},{"s":"no-FdU-1mM-Mg","w":290,"v":4.4},{"s":"no-FdU-1mM-Mg","w":294,"v":2.2},{"s":"no-FdU-1mM-Mg","w":298,"v":1.1},{"s":"no-FdU-1mM-Mg","w":302,"v":0.7},{"s":"no-FdU-1mM-Mg","w":306,"v":0.7},{"s":"no-FdU-1mM-Mg","w":310,"v":0.9}
    ]
  },
  "concat": [
    {
      "title": {"text": "A", "offset": -11},
      "width": 198, "height": 180,
      "layer": [
        {
          "data": {"name": "A"},
          "mark": "line",
          "encoding": {
            "x": {"field": "w", "type": "quantitative", "scale": {"domain": [210, 310], "nice": false, "zero": false}, "axis": {"values": [210, 235, 260, 285, 310], "title": "Wave Length(nm)", "titlePadding": 9}},
            "y": {"field": "v", "type": "quantitative", "scale": {"domain": [-16, 10], "range": [180, 7], "nice": false, "zero": false}, "axis": {"values": [-10, 0, 10], "labelExpr": "'' + datum.value", "title": "Elipticity(ϕ  x 10⁻³)", "titleY": 97}},
            "color": {"field": "s", "type": "nominal", "scale": {"domain": ["3'FdU-1mM-Mg", "3'FdU-1mM Zn", "3'FdU-0.5mM-Mg", "3'FdU-0.5mM Zn", "3'FdU"], "range": ["#e0393e", "#1f9a50", "#3c4f9e", "#d77bb5", "#000000"]}, "legend": {"orient": "none", "legendX": 211, "legendY": 8, "title": null}}
          }
        },
        {
          "data": {"values": [{"t": "3'FdU"}]},
          "mark": {"type": "text", "font": "Liberation Sans", "fontSize": 14, "fontWeight": "bold", "baseline": "middle"},
          "encoding": {"x": {"datum": 259.5}, "y": {"datum": 11.5}, "text": {"field": "t"}}
        }
      ]
    },
    {
      "title": {"text": "B", "offset": -11},
      "width": 200, "height": 179,
      "layer": [
        {
          "data": {"name": "B"},
          "mark": "line",
          "encoding": {
            "x": {"field": "w", "type": "quantitative", "scale": {"domain": [210, 310], "nice": false, "zero": false}, "axis": {"values": [210, 235, 260, 285, 310], "title": "Wave Length(nm)", "titlePadding": 10}},
            "y": {"field": "v", "type": "quantitative", "scale": {"domain": [-35, 30], "nice": false, "zero": false}, "axis": {"values": [-35, -25, -15, -5, 5, 15, 25], "labelExpr": "'' + datum.value", "title": "Elipticity(ϕ  x 10⁻³)", "titleY": 93}},
            "color": {"field": "s", "type": "nominal", "scale": {"domain": ["5'FdU-1mM-Mg", "5'FdU-1mM Zn", "5'FdU-0.5mM-Mg", "5'FdU-0.5mM Zn", "5'FdU"], "range": ["#e0393e", "#1f9a50", "#3c4f9e", "#d77bb5", "#000000"]}, "legend": {"orient": "none", "legendX": 213, "legendY": 5, "title": null}}
          }
        },
        {
          "data": {"values": [{"t": "5'FdU"}]},
          "mark": {"type": "text", "font": "Liberation Sans", "fontSize": 14, "fontWeight": "bold", "baseline": "middle"},
          "encoding": {"x": {"datum": 259.5}, "y": {"datum": 31.1}, "text": {"field": "t"}}
        }
      ]
    },
    {
      "title": {"text": "C", "offset": 0},
      "width": 193, "height": 184,
      "layer": [
        {
          "data": {"name": "C"},
          "mark": "line",
          "encoding": {
            "x": {"field": "w", "type": "quantitative", "scale": {"domain": [210, 310], "nice": false, "zero": false}, "axis": {"values": [210, 235, 260, 285, 310], "title": "Wave Length(nm)", "titlePadding": 14}},
            "y": {"field": "v", "type": "quantitative", "scale": {"domain": [-10, 10], "nice": false, "zero": false}, "axis": {"values": [-10, 0, 10], "labelExpr": "'' + datum.value", "title": "Elipticity(ϕ  x 10⁻³)", "titleY": 87}},
            "color": {"field": "s", "type": "nominal", "scale": {"domain": ["Alt-FdU-1mM-Mg", "Alt-FdU-1mM-Zn", "Alt-FdU-0.5mM-Mg", "Alt-FdU-0.5mM-Zn", "Alt-FdU"], "range": ["#e0393e", "#1f9a50", "#3c4f9e", "#d77bb5", "#000000"]}, "legend": {"orient": "none", "legendX": 208, "legendY": 6, "title": null}}
          }
        },
        {
          "data": {"values": [{"t": "Alt-FdU"}]},
          "mark": {"type": "text", "font": "Liberation Sans", "fontSize": 14, "fontWeight": "bold", "baseline": "middle"},
          "encoding": {"x": {"datum": 258.5}, "y": {"datum": 9.5}, "text": {"field": "t"}}
        }
      ]
    },
    {
      "title": {"text": "D", "offset": 0},
      "width": 200, "height": 183,
      "layer": [
        {
          "data": {"name": "D"},
          "mark": "line",
          "encoding": {
            "x": {"field": "w", "type": "quantitative", "scale": {"domain": [210, 310], "nice": false, "zero": false}, "axis": {"values": [210, 235, 260, 285, 310], "title": "Wave Length(nm)", "titlePadding": 11}},
            "y": {"field": "v", "type": "quantitative", "scale": {"domain": [-30, 25], "nice": false, "zero": false}, "axis": {"values": [-25, -15, -5, 5, 15, 25], "labelExpr": "'' + datum.value", "title": "Elipticity(ϕ  x 10⁻³)", "titleY": 95}},
            "color": {"field": "s", "type": "nominal", "scale": {"domain": ["no-FdU-1mM-Mg", "no-FdU-1mM-Zn", "no-FdU-0.5mM-Mg", "no-FdU-0.5mM-Zn", "no-FdU"], "range": ["#e0393e", "#1f9a50", "#3c4f9e", "#d77bb5", "#000000"]}, "legend": {"orient": "none", "legendX": 207, "legendY": 3, "title": null}}
          }
        },
        {
          "data": {"values": [{"t": "No-FdU"}]},
          "mark": {"type": "text", "font": "Liberation Sans", "fontSize": 14, "fontWeight": "bold", "baseline": "middle"},
          "encoding": {"x": {"datum": 259}, "y": {"datum": 22.4}, "text": {"field": "t"}}
        }
      ]
    }
  ],
  "columns": 2,
  "align": "each",
  "spacing": {"row": 9, "column": 13},
  "resolve": {"scale": {"color": "independent", "x": "independent", "y": "independent"}, "legend": {"color": "independent"}, "axis": {"x": "independent", "y": "independent"}}
}
